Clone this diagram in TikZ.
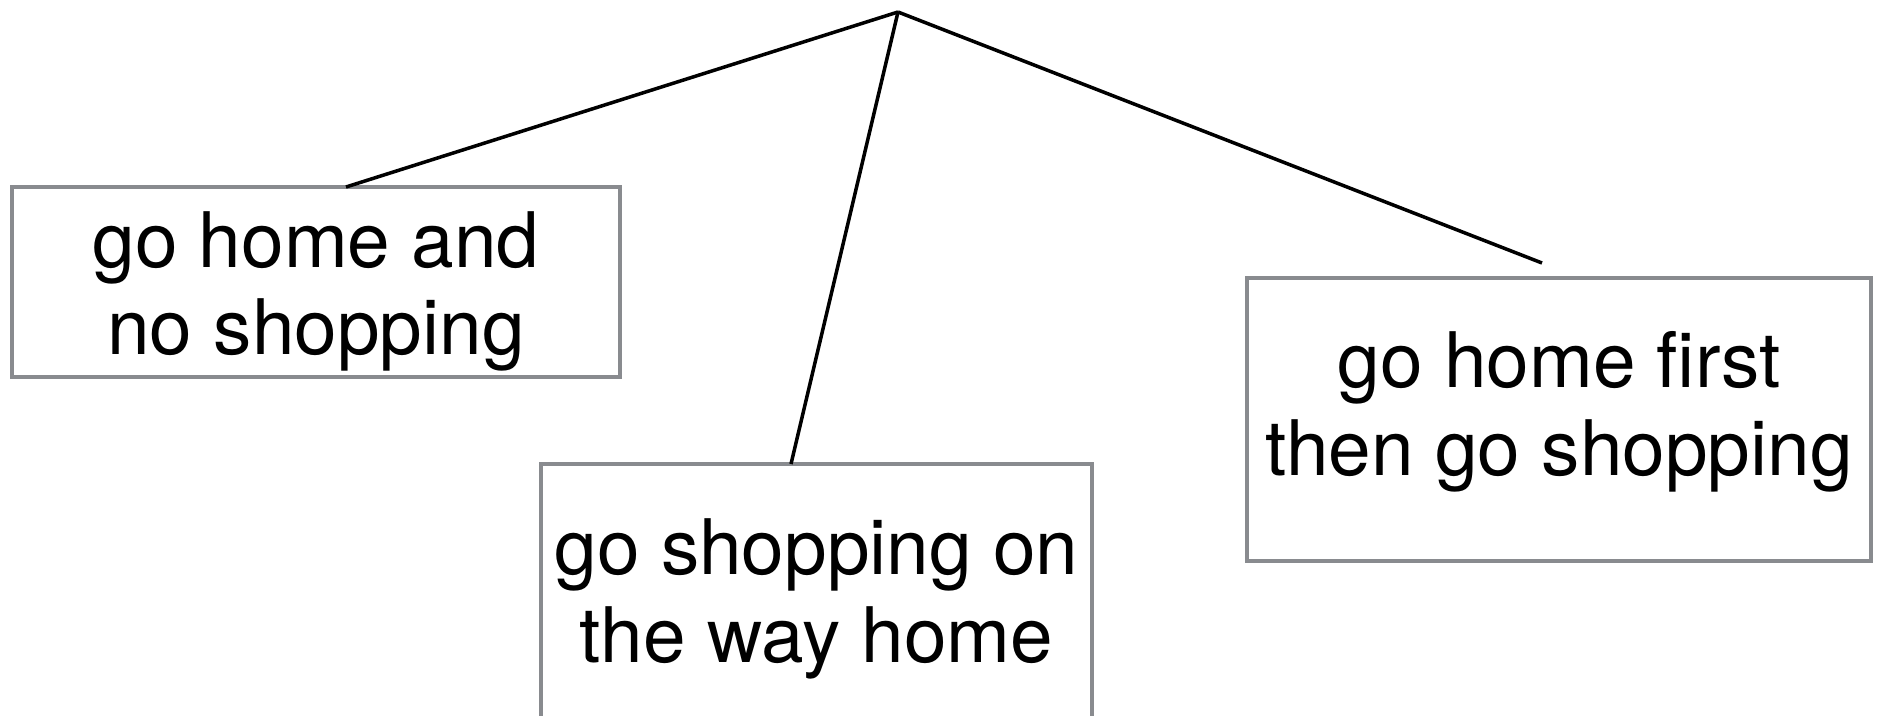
\documentclass[tikz,border=0pt]{standalone}
\usepackage{fontspec}
\setmainfont{TeX Gyre Heros}
\usetikzlibrary{calc}
\definecolor{boxgray}{HTML}{898B8F}
\begin{document}
\begin{tikzpicture}[x=0.02cm,y=-0.02cm,
  choice/.style={draw=boxgray, line width=2.4pt, inner sep=0pt, outer sep=0pt, fill=none},
  label/.style={anchor=base, align=center, inner sep=0pt, font=\fontsize{43.6}{50}\selectfont},
  conn/.style={draw=black, line width=2pt}]
\useasboundingbox (0,0) rectangle (1877,716);
\node[choice, minimum width=0.02cm*608, minimum height=0.02cm*190] (b1) at (316,282) {};
\node[choice, minimum width=0.02cm*551, minimum height=0.02cm*254] (b2) at (816.5,591) {};
\node[choice, minimum width=0.02cm*624, minimum height=0.02cm*283] (b3) at (1559,419.5) {};
\node[label] (t1) at (316,355) {go home and\\no shopping};
\node[label] (t2) at (816.5,662) {go shopping on\\the way home};
\node[label] (t3) at (1559,475) {go home first\\then go shopping};
\coordinate (apex) at (898,12);
\coordinate (e3) at ($(b3.north)+(-17,-15)$);
\draw[conn] (apex) -- ($(b1.north)+(30,0)$);
\draw[conn] (apex) -- ($(b2.north)+(-25.5,0)$);
\draw[conn] (apex) -- (e3);
\end{tikzpicture}
\end{document}
